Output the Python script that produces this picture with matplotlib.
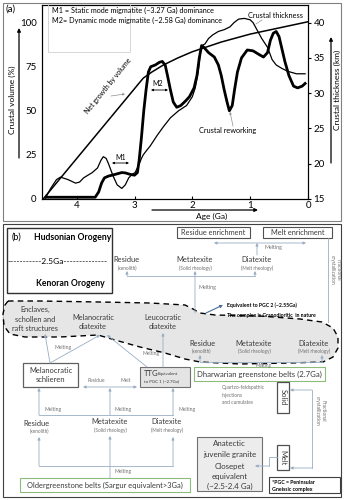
import matplotlib
matplotlib.use("Agg")
import matplotlib.pyplot as plt
from matplotlib.patches import Rectangle, Polygon

plt.rcParams['font.family'] = ['Lato', 'DejaVu Sans']

# ---- panel (a) data ----
# net growth by volume (%)
growth_age = [4.58, 2.85, 2.7, 2.5, 2.25, 2.0, 1.5, 1.0, 0.5, 0.0]
growth_vol = [0, 68.5, 72, 76, 80, 83.5, 89, 93.5, 97, 100.5]

# crustal thickness (km), thin line, right axis
thick_age = [4.55, 4.45, 4.35, 4.28, 4.15, 4.02, 3.95, 3.88, 3.73, 3.64, 3.58, 3.54,
             3.49, 3.45, 3.37, 3.3, 3.22, 3.16, 3.1, 3.04, 2.99, 2.93, 2.88, 2.85,
             2.78, 2.73, 2.61, 2.5, 2.38, 2.24, 2.1, 2.0, 1.95, 1.9, 1.86, 1.83,
             1.78, 1.72, 1.65, 1.55, 1.45, 1.35, 1.28, 1.2, 1.1, 1.0, 0.95, 0.9,
             0.8, 0.7, 0.62, 0.55, 0.45, 0.35, 0.2, 0.05]
thick_km = [15.0, 16.5, 17.75, 18.1, 17.75, 17.25, 17.4, 18.0, 18.75, 19.4, 20.5, 21.0,
            20.75, 20.0, 18.25, 17.0, 16.5, 17.0, 18.0, 18.5, 18.75, 19.75, 20.75, 21.25,
            22.0, 22.5, 24.0, 25.25, 26.5, 27.5, 28.25, 29.5, 30.75, 33.0, 35.75, 36.75,
            37.0, 37.75, 38.25, 38.75, 39.0, 39.4, 40.0, 40.5, 40.6, 40.4, 40.0, 39.25,
            37.75, 36.5, 34.75, 34.0, 33.5, 33.1, 32.75, 32.75]

# crustal reworking (%), thick line
rework_age = [4.52, 3.68, 3.62, 3.57, 3.52, 3.45, 3.33, 3.22, 3.16, 3.08, 3.0, 2.95,
              2.92, 2.88, 2.84, 2.8, 2.76, 2.72, 2.64, 2.57, 2.52, 2.47, 2.43, 2.38,
              2.33, 2.27, 2.2, 2.12, 2.05, 1.97, 1.92, 1.88, 1.84, 1.8, 1.72, 1.62,
              1.55, 1.5, 1.45, 1.4, 1.36, 1.31, 1.27, 1.22, 1.15, 1.05, 0.95, 0.85,
              0.77, 0.7, 0.65, 0.6, 0.55, 0.5, 0.45, 0.4, 0.33, 0.25, 0.18, 0.1, 0.05]
rework_vol = [1, 1, 4, 9, 12, 13, 14, 15, 14.8, 14, 13.5, 15,
              22, 35, 50, 62, 72, 75, 76, 77.5, 78, 76, 70, 62,
              55, 52, 53, 55.5, 58, 63, 70, 80, 87, 86, 83, 80.5,
              76, 70, 62, 55, 50, 53, 62, 72, 80, 84.5, 84, 82,
              80.5, 83, 90, 94, 95, 92, 85, 78, 70, 64, 63, 64, 65.5]

vol_ticks = [0, 25, 50, 75, 100]
km_ticks = [15, 20, 25, 30, 35, 40]
age_ticks = [4, 3, 2, 1, 0]

fig = plt.figure(figsize=(3.44, 5), dpi=100)

ax = fig.add_axes([42/344, 1-199/500, 266/344, 194/500])
ax.plot(growth_age, growth_vol, color='black', lw=1.1)
ax.plot(rework_age, rework_vol, color='black', lw=2.0, solid_joinstyle='round')
ax.set_xlim(4.6, 0)
ax.set_ylim(0, 110)
ax.set_xticks(age_ticks)
ax.set_yticks(vol_ticks)
ax.tick_params(axis='x', direction='in', length=2.5, pad=1.5, labelsize=7)
ax.tick_params(axis='y', length=0, pad=4, labelsize=7)
for s in ax.spines.values():
    s.set_linewidth(0.8)

ax2 = ax.twinx()
ax2.plot(thick_age, thick_km, color='black', lw=0.9)
ax2.set_ylim(15, 42.5)
ax2.set_yticks(km_ticks)
ax2.tick_params(axis='y', length=2.5, pad=1.5, labelsize=7)

# overlay in pixel coordinates for frames, labels and panel (b)
ov = fig.add_axes([0, 0, 1, 1])
ov.set_xlim(0, 344)
ov.set_ylim(500, 0)
ov.axis('off')

LINK = '#9aadc4'
TXT = '#3a3a3a'
GREY = '#707070'


def box(x0, y0, x1, y1, ec='#707070', fc='white', lw=0.8):
    ov.add_patch(Rectangle((x0, y0), x1-x0, y1-y0, ec=ec, fc=fc, lw=lw))


def txt(x, y, s, size=5.4, color=TXT, ha='center', **kw):
    ov.text(x, y, s, fontsize=size, color=color, ha=ha, va='center', **kw)


def arr(x0, y0, x1, y1, color=LINK, lw=0.6, style='-|>', ms=4):
    ov.annotate('', xy=(x1, y1), xytext=(x0, y0),
                arrowprops=dict(arrowstyle=style, color=color, lw=lw,
                                mutation_scale=ms, shrinkA=0, shrinkB=0))


def line(xs, ys, color=LINK, lw=0.6):
    ov.plot(xs, ys, color=color, lw=lw)


# ---- panel (a) decorations ----
box(3, 3, 341, 221, ec='#808080', fc='none', lw=0.8)
txt(5, 9, '(a)', size=7, color='black', ha='left')
box(48, 4, 130, 52, ec='#d0d0d0', fc='none', lw=0.6)
txt(52, 10, 'M1 = Static mode migmatite (~3.27 Ga) dominance', size=5.2, color='black', ha='left')
txt(52, 20, 'M2= Dynamic mode migmatite (~2.58 Ga) dominance', size=5.2, color='black', ha='left')

txt(108, 86, 'Net growth by volume', size=5, color='black', rotation=51)
arr(111, 96, 125, 94, color='#909090', lw=0.5, ms=3)
txt(158, 83, 'M2', size=5, color='black')
arr(151, 90, 168, 90, color='black', style='<|-|>', ms=3)
txt(121, 157, 'M1', size=5, color='black')
arr(112, 163, 129, 163, color='black', style='<|-|>', ms=3)
txt(275, 16, 'Crustal thickness', size=5.3, color='black')
line([262, 256], [20, 24], color='#909090', lw=0.5)
txt(228, 131, 'Crustal reworking', size=5.3, color='black')
arr(233, 126, 230, 112, color='#909090', lw=0.5, ms=3)

txt(12, 100, 'Crustal volume (%)', size=6, color='black', rotation=90)
arr(19, 158, 19, 28, color='black', lw=0.9, ms=5)
txt(337, 90, 'Crustal thickness (km)', size=6, color='black', rotation=90)
arr(331, 163, 331, 37, color='black', lw=0.9, ms=5)
txt(212, 216, 'Age (Ga)', size=6, color='black')
arr(152, 210, 258, 210, color='black', lw=0.9, ms=5)

# ---- panel (b) ----
box(3, 224, 341, 497, ec='#404040', fc='none', lw=0.8)

box(7, 228, 112, 293, ec='#303030', lw=1.0)
txt(12, 237, '(b)', size=6.5, color='black', ha='left')
txt(73, 237, 'Hudsonian Orogeny', size=6.2, color='black', fontweight='bold')
txt(58, 262, '-----------2.5Ga--------------', size=6, color='black')
txt(70, 283, 'Kenoran Orogeny', size=6.2, color='black', fontweight='bold')

box(177, 227, 250, 238, ec='#505050')
txt(213.5, 232.5, 'Residue enrichment', size=5.3)
box(263, 227, 332, 238, ec='#505050')
txt(297.5, 232.5, 'Melt enrichment', size=5.3)
arr(214, 243, 306, 243, style='<|-|>')
arr(257, 255, 257, 243)
txt(273, 248, 'Melting', size=3.8, color=GREY)
line([328, 328], [238, 322])
txt(335, 270, 'Fractional\ncrystallization', size=3.5, color=GREY, rotation=270,
    linespacing=1.3)

txt(127, 260, 'Residue', size=5.4, ha='center')
txt(127, 268, '(xenolith)', size=3.4, color=GREY)
txt(195, 260, 'Metatexite', size=5.4)
txt(195, 268, '(Solid rheology)', size=3.4, color=GREY)
txt(257, 260, 'Diatexite', size=5.4)
txt(257, 268, '(Melt rheology)', size=3.4, color=GREY)
line([127, 255], [276, 276])
arr(127, 276, 127, 271)
arr(255, 276, 255, 271)
arr(195, 313, 195, 271)
txt(207, 287, 'Melting', size=3.8, color=GREY)

# dashed blob (shape outline)
blob = [(8, 301), (40, 301), (100, 302), (150, 303), (185, 305), (193, 309), (200, 313),
        (215, 315), (260, 316), (300, 319), (322, 322), (333, 328), (338, 337),
        (338, 348), (333, 357), (323, 362), (290, 363), (240, 364), (200, 362),
        (185, 359), (165, 353), (140, 347), (115, 340), (98, 335), (60, 337),
        (25, 337), (10, 334), (4, 326), (3, 314), (5, 305)]
ov.add_patch(Polygon(blob, closed=True, fc='#e6e6e6', ec='black', lw=1.0,
                     linestyle=(0, (4, 3)), zorder=1))

txt(35, 319, 'Enclaves,\nschollen and\nraft structures', size=5.3, linespacing=1.35, zorder=3)
txt(93, 322, 'Melanocratic\ndiatexite', size=5.3, linespacing=1.35, zorder=3)
txt(163, 322, 'Leucocratic\ndiatexite', size=5.3, linespacing=1.35, zorder=3)
txt(202, 344, 'Residue', size=5.4, zorder=3)
txt(202, 351, '(xenolith)', size=3.4, color=GREY, zorder=3)
txt(254, 344, 'Metatexite', size=5.4, zorder=3)
txt(254, 351, '(Solid rheology)', size=3.4, color=GREY, zorder=3)
txt(314, 344, 'Diatexite', size=5.4, zorder=3)
txt(314, 351, '(Melt rheology)', size=3.4, color=GREY, zorder=3)
txt(227, 305, 'Equivalent to PGC 2 (~2.55Ga)', size=3.7, color='black', ha='left',
    fontweight='bold')
txt(227, 315, 'The complex is Granodioritic  in nature', size=3.7, color='black',
    ha='left', fontweight='bold')
arr(206, 313, 223, 305, color='#4a6f9a', lw=0.8, ms=4)

line([200, 322], [362, 362])
arr(200, 362, 200, 355)
arr(322, 362, 322, 355)
line([262, 262], [362, 367])
txt(264, 365, 'Melting', size=3.4, color=GREY)

box(194, 367, 325, 381, ec='#8dbb7a')
txt(259.5, 374, 'Dharwarian greenstone belts (2.7Ga)', size=5.6)

# left middle
box(23, 363, 78, 387, ec='#606060', lw=0.9)
txt(50.5, 375, 'Melanocratic\nschlieren', size=5.4, linespacing=1.35)
arr(50, 363, 45, 334)
arr(50, 363, 100, 335)
txt(63, 348, 'Melting', size=3.6, color=GREY)
box(140, 367, 190, 387, ec='#707070', fc='#e4e4e4')
txt(144, 373, 'TTG', size=5.6, ha='left')
txt(158, 373.5, 'Equivalent', size=3.2, ha='left')
txt(144, 381.5, 'to PGC 1 (~2.7Ga)', size=3.2, ha='left')
arr(147, 367, 107, 335)
arr(163, 367, 163, 333)
txt(151, 353, 'Melting', size=3.6, color=GREY)

arr(83, 387, 137, 387, style='<|-|>')
txt(96, 380, 'Residue', size=3.6, color=GREY)
txt(126, 380, 'Melt', size=3.6, color=GREY)
line([39, 173], [415, 415])
arr(39, 415, 39, 388)
arr(110, 415, 110, 388)
arr(173, 415, 173, 388)
txt(53, 410, 'Melting', size=3.6, color=GREY)
txt(123, 410, 'Melting', size=3.6, color=GREY)
txt(187, 410, 'Melting', size=3.6, color=GREY)

txt(37, 423, 'Residue', size=5.4)
txt(39, 431, '(xenolith)', size=3.4, color=GREY)
txt(110, 422, 'Metatexite', size=5.4)
txt(110, 430, '(Solid rheology)', size=3.4, color=GREY)
txt(167, 422, 'Diatexite', size=5.4)
txt(167, 430, '(Melt rheology)', size=3.4, color=GREY)
line([39, 173], [466, 466])
arr(39, 466, 39, 437)
arr(173, 466, 173, 437)
arr(110, 478, 110, 436)
txt(123, 472, 'Melting', size=3.6, color=GREY)

box(20, 478, 190, 492, ec='#8dbb7a')
txt(105, 485, 'Oldergreenstone belts (Sargur equivalent>3Ga)', size=5.4)

# right lower
txt(222, 388, 'Quartzo-feldspathic', size=3.5, color=GREY, ha='left')
txt(222, 395.5, 'injections', size=3.5, color=GREY, ha='left')
txt(222, 403, 'and cumulates', size=3.5, color=GREY, ha='left')
box(277, 382, 289, 413, ec='#505050', lw=0.9)
txt(283, 397.5, 'Solid', size=5.4, rotation=270)
box(277, 445, 289, 470, ec='#505050', lw=0.9)
txt(283, 457.5, 'Melt', size=5.4, rotation=270)
line([312, 312], [390, 468])
arr(312, 390, 290, 390)
arr(312, 468, 290, 468)
txt(320, 411, 'Fractional\ncrystallization', size=3.5, color=GREY, rotation=270,
    linespacing=1.3)

box(197, 437, 262, 491, ec='#707070', fc='#ececec')
txt(229.5, 444, 'Anatectic', size=5.7)
txt(229.5, 455, 'juvenile granite', size=5.7)
txt(229.5, 466, 'Closepet', size=5.7)
txt(229.5, 476.5, 'equivalent', size=5.7)
txt(229.5, 486, '(~2.5-2.4 Ga)', size=5.7)
line([277, 269, 269], [457, 457, 466])
arr(269, 466, 255, 466)

box(269, 477, 340, 493, ec='#404040', lw=0.8)
txt(272, 482, '*PGC = Peninsular', size=3.8, color='black', ha='left', fontweight='bold')
txt(272, 489, 'Gneissic complex', size=3.8, color='black', ha='left', fontweight='bold')

fig.savefig('out.png', dpi=100)
